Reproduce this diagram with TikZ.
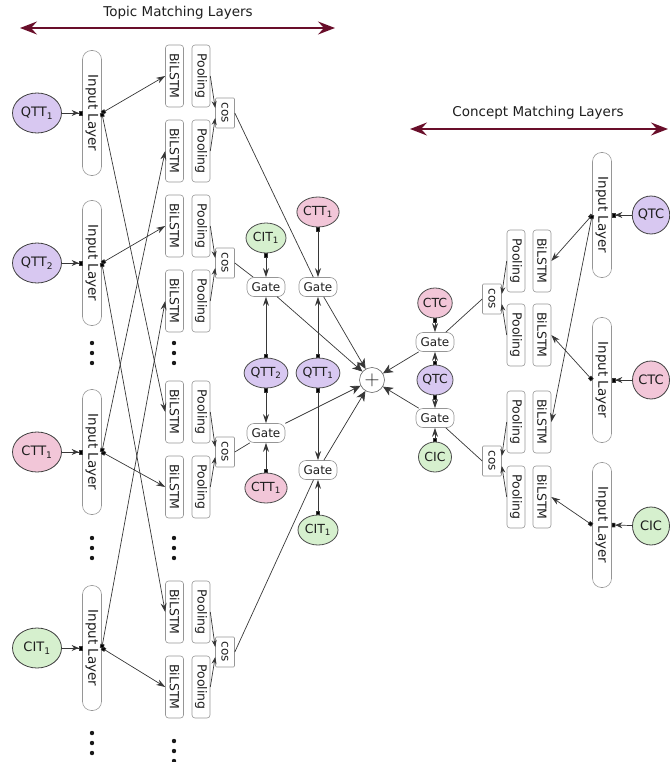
\documentclass[tikz,border=0pt]{standalone}
\usepackage{fontspec}
\setmainfont{DejaVu Sans}
\usetikzlibrary{arrows.meta,shapes.geometric}

\definecolor{qcol}{RGB}{216,200,241}
\definecolor{ccol}{RGB}{242,198,216}
\definecolor{icol}{RGB}{214,240,206}
\definecolor{boxline}{RGB}{150,150,150}
\definecolor{edgecol}{RGB}{55,55,55}
\definecolor{txtcol}{RGB}{30,30,30}
\definecolor{spanred}{RGB}{105,14,42}

\begin{document}
\begin{tikzpicture}[x=1pt,y=-1pt,
  every node/.style={text=txtcol},
  inp/.style={draw=black!75,thick,ellipse,minimum width=49,minimum height=40,inner sep=0pt,font=\fontsize{13}{13}\selectfont},
  sml/.style={draw=black!70,thick,ellipse,minimum width=40,minimum height=30,inner sep=0pt,font=\fontsize{12.5}{12.5}\selectfont},
  layer/.style={draw=boxline,semithick,rounded corners=9,rotate=-90,minimum width=125,minimum height=19,inner sep=0pt,font=\fontsize{13.5}{13.5}\selectfont},
  lstm/.style={draw=boxline,semithick,rounded corners=3,rotate=-90,minimum width=62,minimum height=18,inner sep=0pt,font=\fontsize{12.5}{12.5}\selectfont},
  cosbox/.style={draw=boxline,semithick,rounded corners=1,rotate=-90,minimum width=30,minimum height=19,inner sep=0pt,font=\fontsize{12}{12}\selectfont},
  gate/.style={draw=boxline,semithick,rounded corners=7,minimum width=38,minimum height=19,inner sep=0pt,font=\fontsize{12}{12}\selectfont},
  feed/.style={draw=edgecol,line width=0.7pt,-{Stealth[length=7,width=6]Square[length=3.5,width=4.5,fill=black]}},
  fan/.style={draw=edgecol,line width=0.7pt,{Square[length=4,width=4,fill=black]}-{Stealth[length=9,width=6]}},
  pool/.style={draw=edgecol,line width=0.7pt,-{Stealth[length=7,width=5]}},
  sumin/.style={draw=edgecol,line width=0.7pt,-{Stealth[length=10,width=9,inset=3]}},
  span/.style={draw=spanred,line width=1.8pt,{Stealth[length=17,width=13,inset=6]}-{Stealth[length=17,width=13,inset=6]}}]
\useasboundingbox (0,0) rectangle (669,762);

\node[font=\fontsize{13.5}{13.5}\selectfont] (topic) at (178,13) {Topic Matching Layers};
\coordinate (tl) at (20,28);
\coordinate (tr) at (335,28);
\path[span] (tl) -- (tr);

\node[font=\fontsize{13.5}{13.5}\selectfont] (concept) at (538,113) {Concept Matching Layers};
\coordinate (cl) at (410,129);
\coordinate (cr) at (668,129);
\path[span] (cl) -- (cr);

\node[inp,fill=qcol] (eq1) at (37,113) {QTT\textsubscript{1}};
\node[inp,fill=qcol] (eq2) at (37,263) {QTT\textsubscript{2}};
\node[inp,fill=ccol] (ec1) at (37,452) {CTT\textsubscript{1}};
\node[inp,fill=icol] (ei1) at (37,648) {CIT\textsubscript{1}};

\node[layer] (lq1) at (92,113) {Input Layer};
\node[layer] (lq2) at (92,263) {Input Layer};
\node[layer] (lc1) at (92,452) {Input Layer};
\node[layer] (li1) at (92,648) {Input Layer};

\node[lstm] (b1u) at (174.5,76) {BiLSTM};
\node[lstm] (b1l) at (174.5,151) {BiLSTM};
\node[lstm] (b2u) at (174.5,226) {BiLSTM};
\node[lstm] (b2l) at (174.5,301) {BiLSTM};
\node[lstm] (b3u) at (174.5,412) {BiLSTM};
\node[lstm] (b3l) at (174.5,487) {BiLSTM};
\node[lstm] (b4u) at (174.5,612) {BiLSTM};
\node[lstm] (b4l) at (174.5,687) {BiLSTM};

\node[lstm] (p1u) at (201,76) {Pooling};
\node[lstm] (p1l) at (201,151) {Pooling};
\node[lstm] (p2u) at (201,226) {Pooling};
\node[lstm] (p2l) at (201,301) {Pooling};
\node[lstm] (p3u) at (201,412) {Pooling};
\node[lstm] (p3l) at (201,487) {Pooling};
\node[lstm] (p4u) at (201,612) {Pooling};
\node[lstm] (p4l) at (201,687) {Pooling};

\node[cosbox] (c1) at (225,113) {cos};
\node[cosbox] (c2) at (225,263) {cos};
\node[cosbox] (c3) at (225,452) {cos};
\node[cosbox] (c4) at (225,652) {cos};

\foreach \x/\y in {92/343,174/343,92/538,174/538,92/733,174/741}
  \foreach \d in {0,10,20}
    \fill[black!90] (\x,\y+\d) circle (2.2);

\node[sml,fill=icol] (t1) at (266,238) {CIT\textsubscript{1}};
\node[gate] (g1u) at (266,287) {Gate};
\node[sml,fill=qcol] (m1) at (266,373) {QTT\textsubscript{2}};
\node[gate] (g1l) at (266,433) {Gate};
\node[sml,fill=ccol] (bo1) at (266,488) {CTT\textsubscript{1}};

\node[sml,fill=ccol] (t2) at (318,212) {CTT\textsubscript{1}};
\node[gate] (g2u) at (318,287) {Gate};
\node[sml,fill=qcol] (m2) at (318,373) {QTT\textsubscript{1}};
\node[gate] (g2l) at (318,470) {Gate};
\node[sml,fill=icol] (bo2) at (318,530) {CIT\textsubscript{1}};

\node[draw=black!60,semithick,circle,minimum size=25,inner sep=0pt,font=\fontsize{20}{20}\selectfont] (sum) at (372,380) {$+$};

\node[sml,fill=ccol,minimum width=33] (rctc) at (435,303) {CTC};
\node[gate] (rg1) at (435,342) {Gate};
\node[sml,fill=qcol,minimum width=33] (rqtc) at (435,380) {QTC};
\node[gate] (rg2) at (435,418) {Gate};
\node[sml,fill=icol,minimum width=33] (rcic) at (435,457) {CIC};

\node[cosbox] (rc1) at (492,299) {cos};
\node[cosbox] (rc2) at (492,461) {cos};

\node[lstm] (rp1u) at (516,261) {Pooling};
\node[lstm] (rp1l) at (516,335) {Pooling};
\node[lstm] (rp2u) at (516,422) {Pooling};
\node[lstm] (rp2l) at (516,497) {Pooling};

\node[lstm] (rb1u) at (542,261) {BiLSTM};
\node[lstm] (rb1l) at (542,335) {BiLSTM};
\node[lstm] (rb2u) at (542,422) {BiLSTM};
\node[lstm] (rb2l) at (542,497) {BiLSTM};

\node[layer] (rl1) at (602,215) {Input Layer};
\node[layer] (rl2) at (602,380) {Input Layer};
\node[layer] (rl3) at (602,525) {Input Layer};

\node[inp,fill=qcol,minimum width=37,minimum height=38] (eqc) at (651,215) {QTC};
\node[inp,fill=ccol,minimum width=37,minimum height=38] (ecc) at (651,380) {CTC};
\node[inp,fill=icol,minimum width=37,minimum height=38] (eic) at (651,526) {CIC};

\path[feed] (eq1) -- (lq1.south);
\path[feed] (eq2) -- (lq2.south);
\path[feed] (ec1) -- (lc1.south);
\path[feed] (ei1) -- (li1.south);

\path[fan] (lq1.north) -- (b1u.south);
\path[fan] (lq1.north) -- (b3u.south);
\path[fan] (lq2.north) -- (b2u.south);
\path[fan] (lq2.north) -- (b4u.south);
\path[fan] (lc1.north) -- (b3l.south);
\path[fan] (lc1.north) -- (b1l.south);
\path[fan] (li1.north) -- (b4l.south);
\path[fan] (li1.north) -- (b2l.south);

\path[pool] (p1u.north) -- ([yshift=5pt]c1.south);
\path[pool] (p1l.north) -- ([yshift=-5pt]c1.south);
\path[pool] (p2u.north) -- ([yshift=5pt]c2.south);
\path[pool] (p2l.north) -- ([yshift=-5pt]c2.south);
\path[pool] (p3u.north) -- ([yshift=5pt]c3.south);
\path[pool] (p3l.north) -- ([yshift=-5pt]c3.south);
\path[pool] (p4u.north) -- ([yshift=5pt]c4.south);
\path[pool] (p4l.north) -- ([yshift=-5pt]c4.south);

\path[draw=edgecol,line width=0.7pt] (c1.north) -- (g2u);
\path[draw=edgecol,line width=0.7pt] (c2.north) -- (g1u);
\path[draw=edgecol,line width=0.7pt] (c3.north) -- (g1l);
\path[draw=edgecol,line width=0.7pt] (c4.north) -- (g2l);

\path[fan] (t1) -- (g1u);
\path[fan] (m1) -- (g1u);
\path[fan] (m1) -- (g1l);
\path[fan] (bo1) -- (g1l);
\path[fan] (t2) -- (g2u);
\path[fan] (m2) -- (g2u);
\path[fan] (m2) -- (g2l);
\path[fan] (bo2) -- (g2l);

\path[sumin] (g1u) -- (sum);
\path[sumin] (g2u) -- (sum);
\path[sumin] (g1l) -- (sum);
\path[sumin] (g2l) -- (sum);
\path[sumin] (rg1) -- (sum);
\path[sumin] (rg2) -- (sum);

\path[fan] (rctc) -- (rg1);
\path[fan] (rqtc) -- (rg1);
\path[fan] (rqtc) -- (rg2);
\path[fan] (rcic) -- (rg2);

\path[draw=edgecol,line width=0.7pt] (rc1.south) -- (rg1);
\path[draw=edgecol,line width=0.7pt] (rc2.south) -- (rg2);

\path[pool] (rp1u.south) -- ([yshift=5pt]rc1.north);
\path[pool] (rp1l.south) -- ([yshift=-5pt]rc1.north);
\path[pool] (rp2u.south) -- ([yshift=5pt]rc2.north);
\path[pool] (rp2l.south) -- ([yshift=-5pt]rc2.north);

\path[fan] (rl1.south) -- (rb1u.north);
\path[fan] (rl1.south) -- (rb2u.north);
\path[fan] (rl2.south) -- (rb1l.north);
\path[fan] (rl3.south) -- (rb2l.north);

\path[feed] (eqc) -- (rl1.north);
\path[feed] (ecc) -- (rl2.north);
\path[feed] (eic) -- (rl3.north);
\end{tikzpicture}
\end{document}
